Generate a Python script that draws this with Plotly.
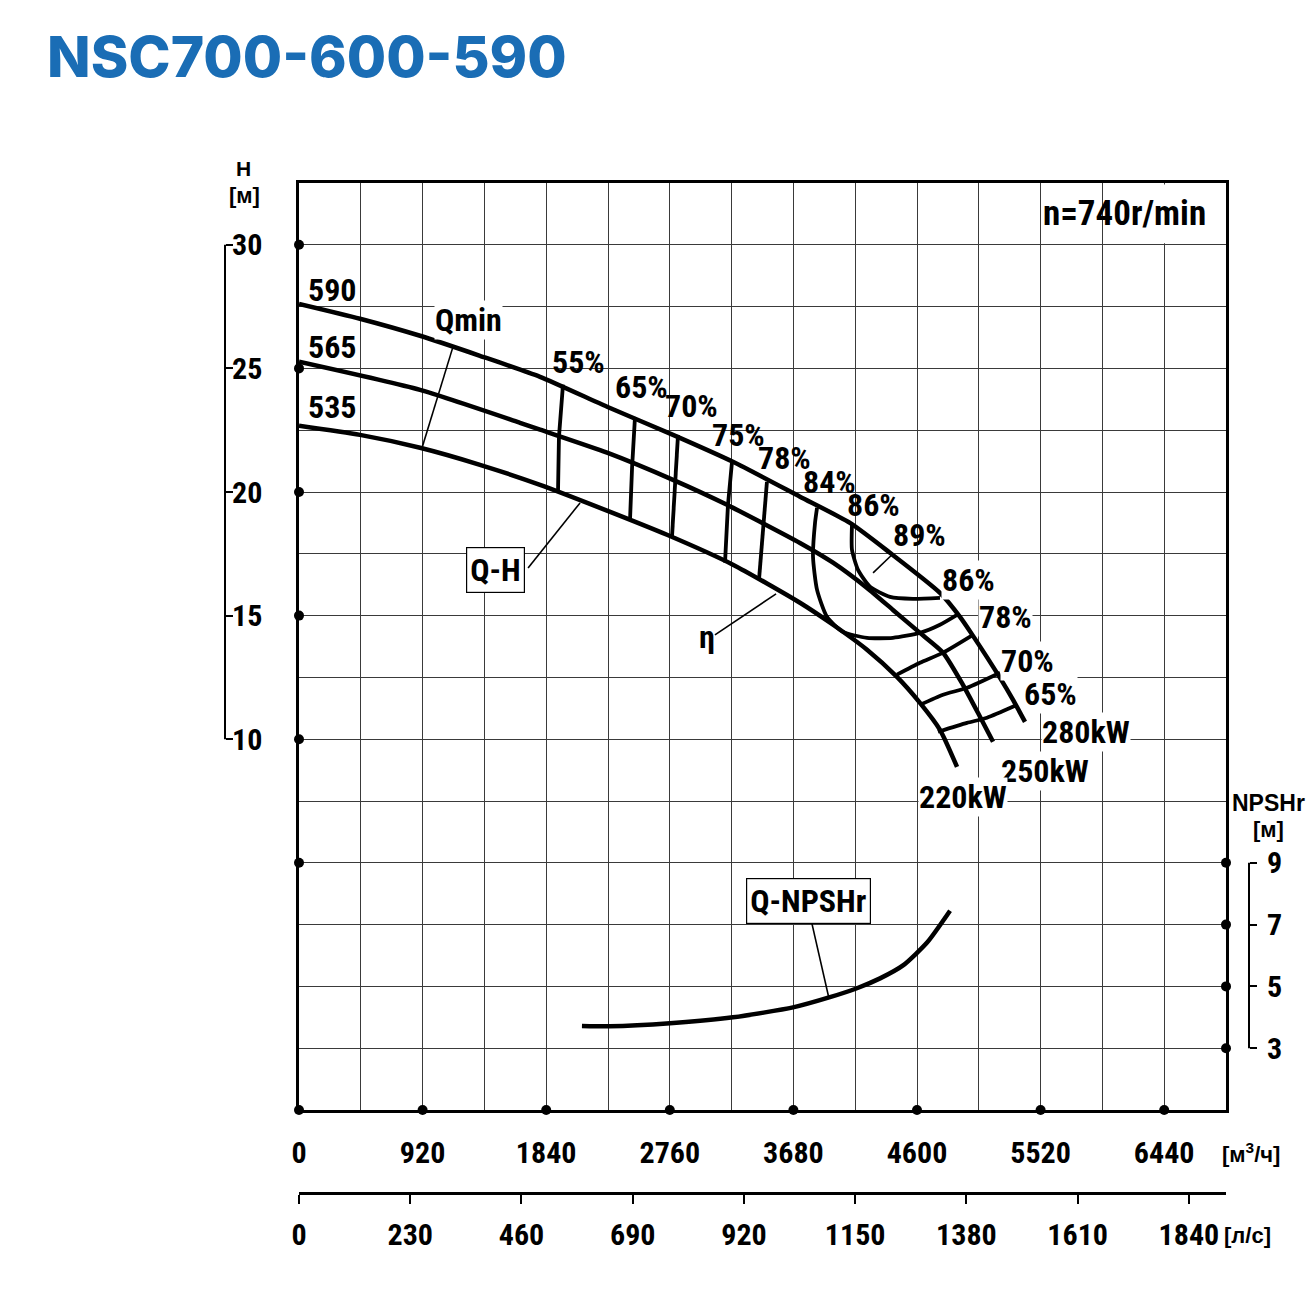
import plotly.graph_objects as go

FIG_W, FIG_H = 1310, 1295


def px_x(px):
    return px / FIG_W


def px_y(py):
    return 1 - py / FIG_H


# ---------------- data ----------------
q_range = [0, 6900]          # m3/h
h_range = [-5, 32.5]         # m
npsh_range = [1, 31]         # m
ls_range = [0, 6900 / 3.6]   # l/s

q_grid = [0, 460, 920, 1380, 1840, 2300, 2760, 3220, 3680, 4140, 4600, 5060,
          5520, 5980, 6440, 6900]
q_tick_labels = ["0", "", "920", "", "1840", "", "2760", "", "3680", "", "4600", "",
                 "5520", "", "6440", ""]
h_grid = [-5, -2.5, 0, 2.5, 5, 7.5, 10, 12.5, 15, 17.5, 20, 22.5, 25, 27.5, 30, 32.5]
h_ticks = [10, 15, 20, 25, 30]
npsh_ticks = [3, 5, 7, 9]
ls_ticks = [0, 230, 460, 690, 920, 1150, 1380, 1610, 1840]
q_dots = [0, 920, 1840, 2760, 3680, 4600, 5520, 6440]
h_dots = [30, 25, 20, 15, 10, 5]

# Q-H curves (impeller diameters)
q_590 = [0, 454, 901, 1347, 1794, 2293, 2784, 3230, 3729, 4101, 4399, 4771, 4920,
         5017, 5218, 5315, 5404]
h_590 = [27.61, 27.01, 26.32, 25.51, 24.66, 23.45, 22.31, 21.22, 19.81, 18.75, 17.54,
         15.92, 14.95, 14.18, 12.48, 11.59, 10.70]
q_565 = [0, 901, 1645, 1794, 2293, 2784, 3186, 3729, 3975, 4228, 4421, 4622, 4794,
         4942, 5069, 5166]
h_565 = [25.27, 24.13, 22.80, 22.52, 21.59, 20.49, 19.48, 17.94, 17.14, 16.12, 15.23,
         14.30, 13.50, 12.20, 10.91, 9.90]
q_535 = [0, 454, 901, 1347, 1794, 2240, 2739, 3230, 3729, 3975, 4228, 4451, 4622,
         4771, 4898]
h_535 = [22.68, 22.31, 21.79, 21.10, 20.29, 19.36, 18.27, 17.06, 15.52, 14.63, 13.62,
         12.52, 11.47, 10.38, 8.88]

# iso-efficiency lines
eff_lines = {
    "55%": ([1965, 1935, 1928], [24.34, 22.23, 20.01]),
    "65%": ([2501, 2479, 2464], [23.04, 20.98, 18.88]),
    "70%": ([2821, 2799, 2776], [22.31, 20.49, 18.15]),
    "75%": ([3223, 3193, 3171], [21.22, 19.48, 17.14]),
    "78%": ([3483, 3454, 3424], [20.41, 18.47, 16.45]),
    "84%": ([3856, 3841, 3826, 3856, 3930, 4049, 4228, 4421, 4622, 4771, 4898],
            [19.36, 18.75, 17.38, 16.04, 14.95, 14.34, 14.10, 14.10, 14.30, 14.63, 15.03]),
    "86%": ([4116, 4116, 4161, 4250, 4399, 4570, 4771],
            [18.67, 17.66, 16.85, 16.17, 15.76, 15.68, 15.72]),
    "89%": ([4273, 4414], [16.73, 17.46]),
    "78%r": ([4451, 4622, 4794, 5017], [12.61, 13.09, 13.50, 14.22]),
    "70%r": ([4622, 4794, 4972, 5218], [11.39, 11.80, 12.08, 12.69]),
    "65%r": ([4756, 4972, 5121, 5330], [10.30, 10.66, 10.87, 11.35]),
}

# Qmin line
q_qmin = [1146, 916]
h_qmin = [25.87, 21.79]

# NPSHr curve
q_npsh = [2106, 2315, 2761, 3230, 3677, 3952, 4153, 4325, 4496, 4675, 4846]
npsh = [3.72, 3.71, 3.81, 4.00, 4.32, 4.65, 4.94, 5.26, 5.68, 6.42, 7.45]

# labels on the curves
curve_labels = ["590", "565", "535", "Qmin", "55%", "65%", "70%", "75%", "78%", "84%",
                "86%", "89%", "86%", "78%", "70%", "65%", "280kW", "250kW", "220kW", "η"]
label_q = [253, 253, 253, 1258, 2077, 2546, 2918, 3275, 3610, 3945, 4273, 4615, 4987,
           5262, 5426, 5597, 5858, 5553, 4942, 3037]
label_h = [28.18, 25.87, 23.45, 26.97, 25.27, 24.26, 23.49, 22.31, 21.38, 20.41, 19.48,
           18.27, 16.45, 14.95, 13.17, 11.84, 10.30, 8.72, 7.67, 14.14]
label_bg = [False, False, False, True, False, False, False, False, False, False,
            False, False, True, True, True, True, True, True, True, False]

# boxed labels and their leader lines
qh_box = ("Q-H", 1459, 16.85)
npsh_box = ("Q-NPSHr", 3796, 3.46)
speed_text = ("n=740r/min", 6148, 31.27)
speed_cell = ([5985, 6895], [30.06, 32.44])
qh_leader_q = [1705, 2092]
qh_leader_h = [16.93, 19.56]
eta_leader_q = [3096, 3551]
eta_leader_h = [14.22, 15.88]
npsh_leader_q = [3818, 3945]
npsh_leader_v = [7.03, 4.61]

# ---------------- style ----------------
NARROW = ("Roboto Condensed, Open Sans Condensed, Liberation Sans Narrow, "
          "Arial Narrow, Roboto, sans-serif")
WIDE = "Liberation Sans, Arial, sans-serif"
GRID = "#3a3a3a"
CURVE_W = 4.5
EFF_W = 3.8
LBL = 32

fig = go.Figure()


def line(x, y, width, yaxis="y", spline=True):
    fig.add_trace(go.Scatter(
        x=x, y=y, yaxis=yaxis, mode="lines", showlegend=False, hoverinfo="skip",
        line=dict(color="black", width=width,
                  shape="spline" if spline else "linear", smoothing=0.6)))


for qv, hv in [(q_590, h_590), (q_565, h_565), (q_535, h_535)]:
    line(qv, hv, CURVE_W)
for name, (qv, hv) in eff_lines.items():
    line(qv, hv, 1.6 if name == "89%" else EFF_W, spline=len(qv) > 3)
line(q_qmin, h_qmin, 1.6, spline=False)
line(qh_leader_q, qh_leader_h, 1.6, spline=False)
line(eta_leader_q, eta_leader_h, 1.6, spline=False)
line(q_npsh, npsh, CURVE_W, yaxis="y2")
line(npsh_leader_q, npsh_leader_v, 1.6, yaxis="y2", spline=False)

# dots on the frame
dot = dict(color="black", size=10)
fig.add_trace(go.Scatter(x=[0] * len(h_dots), y=h_dots, mode="markers", marker=dot,
                         cliponaxis=False, showlegend=False, hoverinfo="skip"))
fig.add_trace(go.Scatter(x=q_dots, y=[h_range[0]] * len(q_dots), mode="markers",
                         marker=dot, cliponaxis=False, showlegend=False, hoverinfo="skip"))
fig.add_trace(go.Scatter(x=[q_range[1]] * len(npsh_ticks), y=npsh_ticks, yaxis="y2",
                         mode="markers", marker=dot, cliponaxis=False, showlegend=False,
                         hoverinfo="skip"))
# carriers for the extra scales
fig.add_trace(go.Scatter(x=[None], y=[None], xaxis="x2", yaxis="y", mode="lines",
                         showlegend=False, hoverinfo="skip"))
fig.add_trace(go.Scatter(x=[None], y=[None], xaxis="x", yaxis="y3", mode="lines",
                         showlegend=False, hoverinfo="skip"))

lblfont = dict(family=NARROW, size=LBL, color="black", weight="bold")
annotations = []
for txt, qv, hv, bg in zip(curve_labels, label_q, label_h, label_bg):
    annotations.append(dict(
        x=qv, y=hv, xref="x", yref="y", text=txt, showarrow=False,
        xanchor="center", yanchor="middle", borderpad=0,
        bgcolor="white" if bg else "rgba(0,0,0,0)", font=lblfont))

for txt, qv, hv in [qh_box, npsh_box]:
    annotations.append(dict(x=qv, y=hv, xref="x", yref="y", text=txt, showarrow=False,
                            xanchor="center", yanchor="middle",
                            bgcolor="white", bordercolor="black", borderwidth=1.2,
                            borderpad=3, font=lblfont))
annotations.append(dict(x=speed_text[1], y=speed_text[2], xref="x", yref="y",
                        text=speed_text[0], showarrow=False, xanchor="center",
                        yanchor="middle",
                        font=dict(family=NARROW, size=35, color="black", weight="bold")))


def paper_text(txt, px, py, size, family=WIDE, color="black", weight="bold",
               xanchor="center"):
    return dict(x=px_x(px), y=px_y(py), xref="paper", yref="paper", text=txt,
                showarrow=False, xanchor=xanchor, yanchor="middle",
                font=dict(family=family, size=size, color=color, weight=weight))


annotations += [
    paper_text("NSC700-600-590", 45, 56, 57, family="Inter, Lato, sans-serif",
               color="#1A6DB5", weight=800, xanchor="left"),
    paper_text("H", 243, 168, 21),
    paper_text("[м]", 244, 195, 22),
    paper_text("NPSHr", 1268, 803, 23),
    paper_text("[м]", 1268, 829, 22),
    paper_text("[м<sup>3</sup>/ч]", 1251, 1153, 22),
    paper_text("[л/с]", 1247, 1235, 22),
]

shapes = [
    dict(type="line", xref="paper", yref="y", x0=px_x(225), x1=px_x(225),
         y0=h_ticks[0], y1=h_ticks[-1], line=dict(color="black", width=2)),
    dict(type="line", xref="paper", yref="y2", x0=px_x(1249), x1=px_x(1249),
         y0=npsh_ticks[0], y1=npsh_ticks[-1], line=dict(color="black", width=2)),
    dict(type="rect", xref="x", yref="y", x0=speed_cell[0][0], x1=speed_cell[0][1],
         y0=speed_cell[1][0], y1=speed_cell[1][1], fillcolor="white",
         line=dict(width=0), layer="between"),
]

tickfont = dict(family=NARROW, size=30, color="black", weight="bold")
x_dom = [px_x(299), px_x(1226)]

fig.update_layout(
    width=FIG_W, height=FIG_H, autosize=False,
    margin=dict(l=0, r=0, t=0, b=0, pad=0, autoexpand=False),
    paper_bgcolor="white", plot_bgcolor="white",
    showlegend=False,
    annotations=annotations, shapes=shapes,
    xaxis=dict(domain=x_dom, range=q_range, tickvals=q_grid, ticktext=q_tick_labels,
               ticks="", showgrid=True, gridcolor=GRID, gridwidth=1, zeroline=False,
               showline=True, linecolor="black", linewidth=3, mirror=True,
               tickfont=tickfont, ticklabelstandoff=14, anchor="y", automargin=False),
    yaxis=dict(domain=[px_y(1110), px_y(183)], range=h_range, tickvals=h_grid,
               showticklabels=False, ticks="", showgrid=True, gridcolor=GRID,
               gridwidth=1, zeroline=False, showline=True, linecolor="black",
               linewidth=3, mirror=True, anchor="x", automargin=False),
    xaxis2=dict(overlaying="x", anchor="free", position=px_y(1193), side="bottom",
                range=ls_range, tickvals=ls_ticks, ticks="outside", ticklen=9,
                tickwidth=1.5, tickcolor="black", showgrid=False, zeroline=False,
                showline=True, linecolor="black", linewidth=3, tickfont=tickfont,
                ticklabelstandoff=5, automargin=False),
    yaxis2=dict(overlaying="y", anchor="free", position=px_x(1249), side="right",
                range=npsh_range, tickvals=npsh_ticks, ticks="outside", ticklen=7,
                tickwidth=1.5, tickcolor="black", showgrid=False, zeroline=False,
                showline=False, tickfont=tickfont, ticklabelstandoff=4,
                automargin=False),
    yaxis3=dict(overlaying="y", anchor="free", position=px_x(225), side="right",
                range=h_range, tickvals=h_ticks, ticks="outside", ticklen=7,
                tickwidth=1.5, tickcolor="black", showgrid=False, zeroline=False,
                showline=False, tickfont=tickfont, ticklabelstandoff=-7,
                automargin=False),
)

fig.write_html("out.html")
